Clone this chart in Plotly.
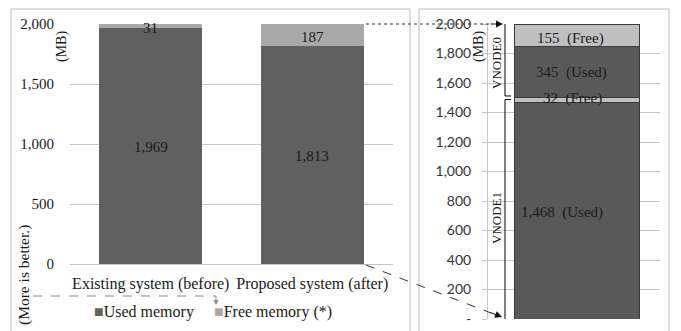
import plotly.graph_objects as go

# ---------------- data ----------------
categories = ["Existing system (before)", "Proposed system (after)"]
used_memory = [1969, 1813]
free_memory = [31, 187]

# detail of proposed system (stacked from bottom)
vnode1_used = 1468
vnode1_free = 32
vnode0_used = 345
vnode0_free = 155
detail_labels = ["1,468\u00a0 (Used)", "32\u00a0 (Free)", "345\u00a0 (Used)", "155\u00a0 (Free)"]

left_ticks = [0, 500, 1000, 1500, 2000]
right_ticks = [0, 200, 400, 600, 800, 1000, 1200, 1400, 1600, 1800, 2000]
right_ticktext = ["-" if v == 0 else f"{v:,}" for v in right_ticks]

W, H = 681, 331
SERIF = "Liberation Serif"
SANS = "Lato"
USED_L, FREE_L = "#606060", "#a9a9a9"
USED_R, FREE_R = "#595959", "#c0c0c0"
GRID = "#c4c4c4"


def px(x):
    return x / W


def py(y):
    return 1 - y / H


def txt(x, y, text, size=15, angle=0, xanchor="center", font=SERIF):
    return dict(x=px(x), y=py(y), xref="paper", yref="paper", text=text, textangle=angle,
                showarrow=False, xanchor=xanchor, yanchor="middle",
                font=dict(family=font, size=size, color="#1a1a1a"))


fig = go.Figure()

# left chart
fig.add_trace(go.Bar(x=categories, y=used_memory, marker=dict(color=USED_L, line=dict(width=0)), width=0.64,
                     xaxis="x", yaxis="y", showlegend=False, name="Used memory"))
fig.add_trace(go.Bar(x=categories, y=free_memory, marker=dict(color=FREE_L, line=dict(width=0)), width=0.64,
                     xaxis="x", yaxis="y", showlegend=False, name="Free memory (*)"))

# right detail chart
detail_vals = [vnode1_used, vnode1_free, vnode0_used, vnode0_free]
detail_cols = [USED_R, FREE_R, USED_R, FREE_R]
for v, c in zip(detail_vals, detail_cols):
    fig.add_trace(go.Bar(x=[""], y=[v], marker=dict(color=c, line=dict(color="#3a3a3a", width=1)),
                         width=0.727, xaxis="x2", yaxis="y2", showlegend=False))

annotations = []
# value labels on left bars
for i, cat in enumerate(categories):
    annotations.append(dict(x=cat, y=used_memory[i] / 2, xref="x", yref="y", text=f"{used_memory[i]:,}",
                            showarrow=False, xanchor="center", yanchor="middle",
                            font=dict(family=SERIF, size=15, color="#1a1a1a"), yshift=-1))
    annotations.append(dict(x=cat, y=used_memory[i] + free_memory[i] / 2, xref="x", yref="y",
                            text=f"{free_memory[i]:,}", showarrow=False, xanchor="center", yanchor="middle",
                            font=dict(family=SERIF, size=15, color="#1a1a1a"), yshift=-2))

# labels on right bar
cum = 0
shifts = [-2, 2, 0, -3]
xs = [-15, -5, -6, -7]
for v, lab, ys, xsf in zip(detail_vals, detail_labels, shifts, xs):
    annotations.append(dict(x=0, y=cum + v / 2, xref="x2", yref="y2", text=lab, showarrow=False,
                            xanchor="center", yanchor="middle",
                            font=dict(family=SERIF, size=15, color="#1a1a1a"), yshift=ys, xshift=xsf))
    cum += v

# axis unit labels and notes
annotations += [
    txt(62, 47, "(MB)", 14, -90),
    txt(479, 47, "(MB)", 14, -90),
    txt(24, 275, "(More is better.)", 15.5, -90),
    txt(497, 63, "VNODE0", 13, -90),
    txt(497, 218, "VNODE1", 13, -90),
    # legend
    txt(92, 312, f"<span style='color:{USED_L}'>■</span>Used memory", 16, 0, "left"),
    txt(212, 312, f"<span style='color:{FREE_L}'>■</span>Free memory (*)", 16, 0, "left"),
    # arrowheads
    dict(x=px(503), y=py(24), xref="paper", yref="paper", ax=-14, ay=0, text="", showarrow=True,
         arrowhead=2, arrowsize=1.4, arrowwidth=1, arrowcolor="#111"),
    dict(x=px(502), y=py(317), xref="paper", yref="paper", ax=-13, ay=-5, text="", showarrow=True,
         arrowhead=2, arrowsize=1.4, arrowwidth=1, arrowcolor="#111"),
    dict(x=px(216), y=py(305), xref="paper", yref="paper", ax=0, ay=-8, text="", showarrow=True,
         arrowhead=2, arrowsize=1, arrowwidth=1, arrowcolor="#888"),
]

shapes = [
    # panel frames
    dict(type="rect", xref="paper", yref="paper", x0=px(11), x1=px(410), y0=-0.1, y1=py(9),
         line=dict(color="#bdbdbd", width=1)),
    dict(type="rect", xref="paper", yref="paper", x0=px(419), x1=px(669), y0=-0.1, y1=py(9),
         line=dict(color="#bdbdbd", width=1)),
    # connector lines
    dict(type="line", xref="paper", yref="paper", x0=px(366), y0=py(24), x1=px(492), y1=py(24),
         line=dict(color="#333", width=1, dash="dot")),
    dict(type="line", xref="paper", yref="paper", x0=px(366), y0=py(265), x1=px(491), y1=py(313),
         line=dict(color="#333", width=1, dash="dash")),
    dict(type="line", xref="paper", yref="paper", x0=px(33), y0=py(296), x1=px(216), y1=py(296),
         line=dict(color="#888", width=1, dash="dash")),
    dict(type="line", xref="paper", yref="paper", x0=px(216), y0=py(296), x1=px(216), y1=py(298),
         line=dict(color="#888", width=1)),
]

# VNODE brackets (data coordinates on y2)
b0 = vnode1_used + vnode1_free
top = b0 + vnode0_used + vnode0_free
bx = px(505)
shapes += [
    dict(type="line", xref="paper", yref="y2", x0=bx, x1=bx, y0=top, y1=b0 + 12, line=dict(color="#000", width=1)),
    dict(type="line", xref="paper", yref="y2", x0=bx, x1=px(511), y0=b0 + 12, y1=b0 + 12, line=dict(color="#000", width=1)),
    dict(type="line", xref="paper", yref="y2", x0=bx, x1=bx, y0=b0 - 12, y1=0, line=dict(color="#000", width=1)),
    dict(type="line", xref="paper", yref="y2", x0=bx, x1=px(511), y0=b0 - 12, y1=b0 - 12, line=dict(color="#000", width=1)),
]

fig.update_layout(
    template="none",
    width=W, height=H, margin=dict(l=0, r=0, t=0, b=0, pad=0, autoexpand=False),
    paper_bgcolor="white", plot_bgcolor="white", barmode="stack", bargap=0,
    showlegend=False,
    xaxis=dict(domain=[px(70), px(393)], anchor="y", showline=True, linecolor=GRID, ticks="",
               tickfont=dict(family=SERIF, size=16, color="#1a1a1a"), ticklabelstandoff=5,
               automargin=False, showgrid=False, zeroline=False),
    yaxis=dict(domain=[py(264), py(24)], anchor="x", range=[0, 2000], tickvals=left_ticks,
               tickformat=",", gridcolor=GRID, gridwidth=1, showline=False, zeroline=False, ticks="",
               tickfont=dict(family=SERIF, size=15, color="#1a1a1a"), ticklabelstandoff=15,
               automargin=False),
    xaxis2=dict(domain=[px(488), px(660)], anchor="y2", range=[-0.52, 0.48], showticklabels=False,
                ticks="", showline=False, showgrid=False, zeroline=False, automargin=False),
    yaxis2=dict(domain=[py(319), py(24)], anchor="x2", range=[0, 2000], tickvals=right_ticks,
                ticktext=right_ticktext, gridcolor=GRID, gridwidth=1, showline=True, linecolor=GRID,
                ticks="outside", ticklen=5, tickcolor=GRID, zeroline=False, automargin=False,
                tickfont=dict(family=SANS, size=14, color="#333"), ticklabelstandoff=8),
    annotations=annotations, shapes=shapes,
)

fig.write_html("out.html", config={"displayModeBar": False, "staticPlot": True},
               post_script="document.body.style.margin='0';document.body.style.overflow='hidden';")
